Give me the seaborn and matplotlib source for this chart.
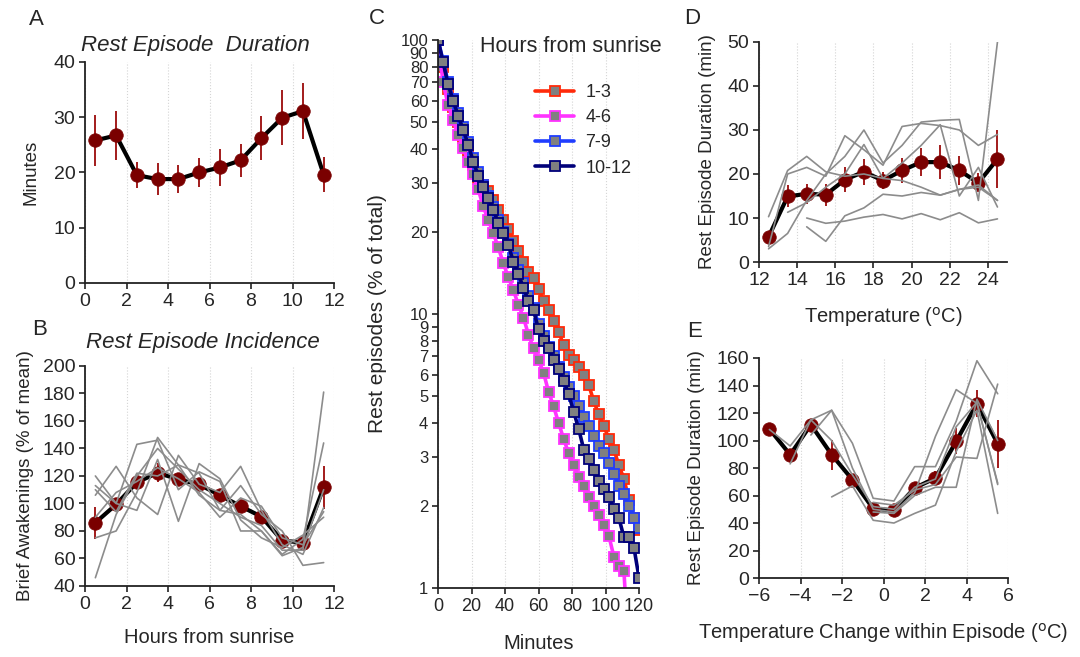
import numpy as np
import pandas as pd
import matplotlib
matplotlib.use('Agg')
import matplotlib.pyplot as plt
from matplotlib.ticker import FixedLocator, NullLocator
import seaborn as sns

# ---------------- data ----------------
hours = [0.5, 1.5, 2.5, 3.5, 4.5, 5.5, 6.5, 7.5, 8.5, 9.5, 10.5, 11.5]

# A - rest episode duration (minutes)
dur_mean = [25.8, 26.7, 19.5, 18.8, 18.8, 20.0, 20.9, 22.2, 26.2, 29.9, 31.1, 19.6]
dur_err = [4.6, 4.4, 2.4, 2.9, 2.5, 2.7, 3.3, 3.0, 4.0, 5.0, 5.1, 3.2]

# B - rest episode incidence (% of mean)
inc_mean = [86, 99.3, 115.3, 122.3, 117.5, 113.8, 106, 98, 90.4, 73, 71.5, 111.7]
inc_err = [11.5, 5, 5, 7, 4, 3, 3, 4, 3, 4, 4, 15.5]
inc_birds = [
    [46, 92, 120, 140, 125, 110, 100, 90, 84, 66, 66, 181],
    [75, 80, 108, 148, 128, 106, 95, 92, 80, 63, 74, 144],
    [106, 127, 104, 92, 135, 114, 108, 127, 95, 70, 63, 97],
    [113, 100, 143, 146, 110, 123, 116, 80, 80, 62, 68, 110],
    [120, 100, 95, 132, 87, 129, 118, 88, 75, 68, 77, 90],
    [110, 94, 122, 120, 128, 122, 95, 113, 92, 80, 55, 57],
    [90, 108, 116, 126, 118, 108, 90, 104, 98, 75, 70, 94],
]

# C - survival of rest episodes (% of total)
surv_min = list(range(0, 121, 3))
surv_1_3 = [100, 80, 66, 57, 50, 44, 39, 35, 31, 29.5, 28, 26, 24, 22, 20.5, 18.5,
            17, 15.5, 14.2, 13.5, 12.3, 11.2, 10.3, 9.4, 8.6, 7.7, 7.1, 6.8, 6.4,
            6.0, 5.5, 4.8, 4.3, 3.9, 3.5, 3.2, 2.8, 2.5, 2.1, 1.8, 1.63]
surv_7_9 = [100, 84, 70, 61, 54, 48, 42.5, 37, 33, 29.5, 27, 24.5, 22, 20, 18, 16,
            14.5, 13, 11.6, 10.5, 9.2, 8.3, 7.6, 7.0, 6.4, 5.9, 5.4, 5.0, 4.6, 4.2,
            3.9, 3.6, 3.3, 3.1, 2.85, 2.6, 2.35, 2.2, 2.0, 1.8, 1.65]
surv_10_12 = [100, 83, 69, 60, 53, 47, 41.5, 36, 32, 29, 26.5, 24, 21.5, 19.7, 17.8,
              15.5, 14, 12.4, 11.2, 10.3, 8.8, 8.0, 7.5, 6.8, 6.3, 5.7, 5.1, 4.4, 3.8,
              3.2, 2.95, 2.7, 2.45, 2.3, 2.15, 1.95, 1.8, 1.53, 1.53, 1.4, 1.09]
surv_min_4_6 = list(range(0, 112, 3)) + [112]
surv_4_6 = [100, 70, 58, 51, 45, 40.5, 36, 32.5, 28.5, 24.7, 22, 19.7, 17.5, 15.3,
            13.6, 12.2, 10.8, 9.7, 8.4, 7.5, 6.8, 6.1, 5.2, 4.6, 4.0, 3.5, 3.1, 2.8,
            2.55, 2.35, 2.15, 2.0, 1.85, 1.7, 1.55, 1.3, 1.2, 1.15, 0.9]

# D - duration vs temperature
temps = [12.5, 13.5, 14.5, 15.5, 16.5, 17.5, 18.5, 19.5, 20.5, 21.5, 22.5, 23.5, 24.5]
temp_mean = [5.7, 14.9, 15.5, 15.3, 18.7, 20.5, 18.5, 20.8, 22.7, 22.7, 20.8, 18.0, 23.4]
temp_err = [0, 2.5, 2.3, 2.5, 2.8, 3.0, 2.0, 2.8, 3.1, 3.8, 3.2, 2.2, 6.6]
nan = np.nan
temp_birds = [
    [10.3, 20.8, 24.0, 20.5, 19.5, 20.0, 19.0, 18.5, 17.0, 15.2, 16.5, 17.5, 14.0],
    [3.5, 20.0, 21.5, 19.5, 28.7, 25.5, 22.0, 30.8, 31.5, 31.0, 30.0, 26.5, 29.0],
    [3.0, 6.5, 14.0, 20.0, 24.0, 30.0, 22.5, 26.5, 31.8, 32.2, 32.4, 14.0, 50.0],
    [nan, 11.3, 13.5, 17.0, 20.0, 26.7, 19.0, 22.5, 26.5, 31.2, 15.0, 21.5, 12.5],
    [nan, nan, 10.0, 8.8, 9.3, 10.2, 10.8, 9.8, 11.0, 9.6, 11.2, 8.9, 9.8],
    [nan, nan, 8.0, 4.7, 10.5, 12.3, 15.4, 15.0, 15.8, 15.2, 16.5, 17.0, 14.0],
]

# E - duration vs temperature change within episode
dtemp = [-5.5, -4.5, -3.5, -2.5, -1.5, -0.5, 0.5, 1.5, 2.5, 3.5, 4.5, 5.5]
dtemp_mean = [108.4, 89.7, 111.5, 89.7, 71.5, 50.4, 49.2, 65.5, 72.7, 99.4, 126.8, 97.7]
dtemp_err = [0, 0, 0, 11, 4, 3, 3, 3, 5, 9.5, 10, 17.5]
dtemp_birds = [
    [108, 96, 115, 100, 75, 52, 50, 66, 72, 110, 128, 68],
    [nan, 83, 115, 122, 98, 58, 56, 81, 81, 114, 158, 134],
    [nan, nan, 104, 122, 80, 50, 48, 62, 103, 137, 127, 69],
    [nan, nan, nan, 59, 67, 42, 40, 47, 53, 92, 122, 47],
    [nan, nan, nan, nan, nan, 48, 47, 60, 66, 66, 130, 100],
    [nan, nan, nan, nan, nan, 55, 53, 64, 68, 88, 87, 141],
]

# ---------------- style ----------------
sns.set_style('ticks')
plt.rcParams['font.family'] = ['Liberation Sans', 'DejaVu Sans']
DARKRED = '#7a0000'
GRAY = '#8c8c8c'

fig = plt.figure(figsize=(10.8, 6.57), dpi=100)


def style(ax, size=14):
    sns.despine(ax=ax)
    for s in ['left', 'bottom']:
        ax.spines[s].set_color('#222222')
        ax.spines[s].set_linewidth(1.3)
    ax.tick_params(direction='out', length=4, width=1.2, labelsize=size,
                   color='#222222', pad=3)
    ax.xaxis.grid(True, ls=':', color='#d5d5d5', lw=0.8)
    ax.set_axisbelow(True)


def birds_df(xs, rows):
    frames = []
    for i, r in enumerate(rows):
        frames.append(pd.DataFrame({'x': xs, 'y': r, 'bird': i}))
    return pd.concat(frames).dropna()


def mean_plot(ax, x, y, err):
    sns.lineplot(x=x, y=y, ax=ax, color='black', lw=3, zorder=3)
    ax.errorbar(x, y, yerr=err, fmt='none', ecolor='#9b0a0a', elinewidth=1.3,
                capsize=0, zorder=4)
    sns.scatterplot(x=x, y=y, ax=ax, s=95, color=DARKRED, edgecolor=DARKRED,
                    linewidth=0.5, zorder=5)


def birds_plot(ax, xs, rows):
    sns.lineplot(data=birds_df(xs, rows), x='x', y='y', units='bird',
                 estimator=None, color=GRAY, lw=1.2, zorder=6, ax=ax)


# ---- A ----
axA = fig.add_axes([0.0787, 0.5693, 0.2306, 0.3364])
mean_plot(axA, hours, dur_mean, dur_err)
axA.set_xlim(0, 12)
axA.set_ylim(0, 40)
axA.set_xticks(range(0, 13, 2))
axA.set_yticks(range(0, 41, 10))
axA.set_xlabel('')
axA.set_ylabel('Minutes', fontsize=13.5, labelpad=10)
style(axA)

# ---- B ----
axB = fig.add_axes([0.0787, 0.1081, 0.2306, 0.3349])
mean_plot(axB, hours, inc_mean, inc_err)
birds_plot(axB, hours, inc_birds)
axB.set_xlim(0, 12)
axB.set_ylim(40, 200)
axB.set_xticks(range(0, 13, 2))
axB.set_yticks(range(40, 201, 20))
axB.set_xlabel('Hours from sunrise', fontsize=14.5, labelpad=11)
axB.set_ylabel('Brief Awakenings (% of mean)', fontsize=13.5, labelpad=6)
style(axB)

# ---- C ----
axC = fig.add_axes([0.4056, 0.1050, 0.1861, 0.8341])
curves = [
    ('1-3', surv_min, surv_1_3, '#ff2a0a'),
    ('4-6', surv_min_4_6, surv_4_6, '#ff33ff'),
    ('7-9', surv_min, surv_7_9, '#1f3dff'),
    ('10-12', surv_min, surv_10_12, '#00007a'),
]
for lab, xs, ys, col in curves:
    sns.lineplot(x=xs, y=ys, ax=axC, color=col, lw=2.6, marker='s', markersize=7,
                 markerfacecolor='#808080', markeredgecolor=col, markeredgewidth=1.3,
                 label=lab, sort=False)
axC.set_yscale('log')
axC.set_xlim(0, 120)
axC.set_ylim(1, 100)
yt = [1, 2, 3, 4, 5, 6, 7, 8, 9, 10, 20, 30, 40, 50, 60, 70, 80, 90, 100]
axC.yaxis.set_major_locator(FixedLocator(yt))
axC.yaxis.set_minor_locator(NullLocator())
axC.set_yticklabels([str(v) for v in yt])
axC.set_xticks(range(0, 121, 20))
axC.set_xlabel('Minutes', fontsize=14.5, labelpad=14)
axC.set_ylabel('Rest episodes (% of total)', fontsize=15, labelpad=10)
style(axC, size=13)
axC.tick_params(axis='y', labelsize=12)
leg = axC.legend(loc='upper left', bbox_to_anchor=(0.480, 0.8965),
                 bbox_transform=fig.transFigure, frameon=False, fontsize=13,
                 handlelength=2.2, handletextpad=0.6, labelspacing=0.45)
fig.text(0.5287, 0.9285, 'Hours from sunrise', fontsize=15.5, ha='center',
         va='center')

# ---- D ----
axD = fig.add_axes([0.7028, 0.6012, 0.2296, 0.3349])
mean_plot(axD, temps, temp_mean, temp_err)
birds_plot(axD, temps, temp_birds)
axD.set_xlim(12, 25)
axD.set_ylim(0, 50)
axD.set_xticks(range(12, 25, 2))
axD.set_yticks(range(0, 51, 10))
axD.set_xlabel('Temperature ($^{\\mathrm{o}}$C)', fontsize=14.5, labelpad=12)
axD.set_ylabel('Rest Episode Duration (min)', fontsize=13.5, labelpad=8)
style(axD)

# ---- E ----
axE = fig.add_axes([0.7028, 0.1202, 0.2306, 0.3349])
mean_plot(axE, dtemp, dtemp_mean, dtemp_err)
birds_plot(axE, dtemp, dtemp_birds)
axE.set_xlim(-6, 6)
axE.set_ylim(0, 160)
axE.set_xticks(range(-6, 7, 2))
axE.set_yticks(range(0, 161, 20))
axE.set_xlabel('Temperature Change within Episode ($^{\\mathrm{o}}$C)', fontsize=14.5,
               labelpad=12)
axE.set_ylabel('Rest Episode Duration (min)', fontsize=13.5, labelpad=8)
style(axE)

# ---- titles and panel letters ----
fig.text(0.181, 0.931, 'Rest Episode  Duration', fontsize=16, style='italic',
         ha='center', va='center')
fig.text(0.188, 0.479, 'Rest Episode Incidence', fontsize=16, style='italic',
         ha='center', va='center')
for letter, x, y in [('A', 0.034, 0.970), ('B', 0.037, 0.498), ('C', 0.349, 0.972),
                     ('D', 0.641, 0.972), ('E', 0.643, 0.495)]:
    fig.text(x, y, letter, fontsize=16, ha='center', va='center')

fig.savefig('out.png', dpi=100)
